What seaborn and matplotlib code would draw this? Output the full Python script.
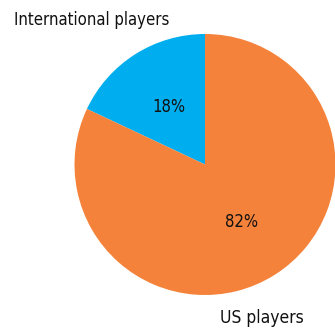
import matplotlib.pyplot as plt
import seaborn as sns

# share of players
groups = ["International players", "US players"]
shares = [18, 82]
colors = ["#00AEEF", "#F4823A"]

sns.set_theme(style="white")
plt.rcParams["font.family"] = ["DejaVu Sans"]
plt.rcParams["font.stretch"] = "condensed"

fig = plt.figure(figsize=(3.35, 3.33), dpi=100)
ax = fig.add_axes([74.5 / 335, 38 / 333, 261 / 335, 261 / 333])

wedges, texts, autotexts = ax.pie(
    shares, colors=colors, startangle=90, counterclock=True,
    autopct="%d%%", pctdistance=0.52, radius=1,
    wedgeprops=dict(linewidth=0),
    textprops=dict(fontsize=12, color="#111111"),
)
ax.set_xlim(-1, 1)
ax.set_ylim(-1, 1)
ax.set_aspect("equal")

# outside labels
ax.text(-1.464, 1.107, groups[0], ha="left", va="center", fontsize=12, color="#111111", clip_on=False)
ax.text(0.115, -1.176, groups[1], ha="left", va="center", fontsize=12.5, color="#111111", clip_on=False)

fig.savefig("out.png", dpi=100)
